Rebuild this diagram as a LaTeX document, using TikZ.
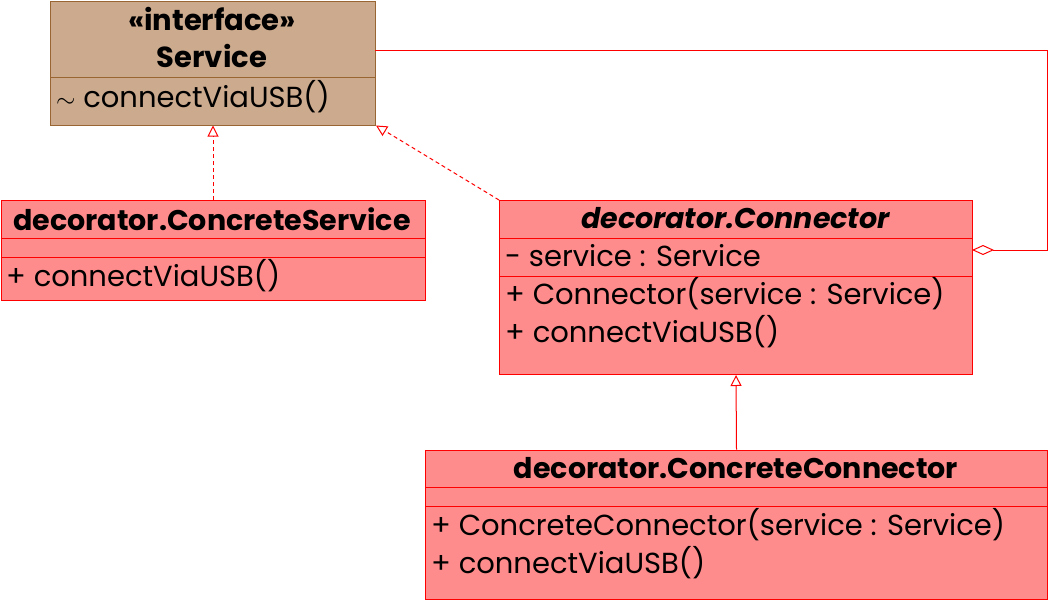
\documentclass[tikz,border=0pt]{standalone}
\usepackage{fontspec}
\setmainfont{Poppins}
\usetikzlibrary{arrows.meta}
\definecolor{classfill}{RGB}{255,140,140}
\definecolor{ifacefill}{RGB}{204,170,142}
\definecolor{ifacedraw}{RGB}{153,102,51}
\begin{document}
\begin{tikzpicture}[x=1pt,y=-1pt,
        cbox/.style={draw=red,fill=classfill,line width=1pt,inner sep=0pt,anchor=north west},
        ibox/.style={cbox,draw=ifacedraw,fill=ifacefill},
        title/.style={font=\fontsize{28.5}{30}\selectfont\bfseries,inner sep=0pt},
        member/.style={font=\fontsize{29}{30}\selectfont,inner sep=0pt,anchor=west},
        realize/.style={red,line width=1pt,dash pattern=on 4pt off 3pt,-{Triangle[open,length=11pt,width=11pt]}},
        extend/.style={red,line width=1pt,-{Triangle[open,length=11pt,width=11pt]}}]
    \useasboundingbox (0,0) rectangle (1055,600);
    % interface
    \node[ibox,minimum width=325pt,minimum height=124pt] (service) at (50,0.5) {};
    \draw[ifacedraw] (50,77) -- (375,77);
    \node[title,font=\fontsize{29}{30}\selectfont\bfseries] (serviceStereo) at (212,19) {«interface»};
    \node[title,font=\fontsize{29}{30}\selectfont\bfseries] (serviceName) at (212,56) {Service};
    \node[member] (serviceOp) at (56,97) {$\sim$ connectViaUSB()};
    % concrete service
    \node[cbox,minimum width=424pt,minimum height=100pt] (cservice) at (0.5,200) {};
    \foreach \y in {238,257}
        \draw[red] (0.5,\y) -- (424.5,\y);
    \node[title] (cserviceName) at (212,219) {decorator.ConcreteService};
    \node[member] (cserviceOp) at (6,276) {+ connectViaUSB()};
    % connector
    \node[cbox,minimum width=473pt,minimum height=174pt] (connector) at (499,200) {};
    \foreach \y in {238,276}
        \draw[red] (499,\y) -- (972,\y);
    \node[title,font=\fontsize{28.5}{30}\selectfont\bfseries\itshape] (connectorName) at (735.5,218) {decorator.Connector};
    \node[member] (connectorAttr) at (505,256) {- service : Service};
    \node[member] (connectorCtor) at (505,294) {+ Connector(service : Service)};
    \node[member] (connectorOp) at (505,332) {+ connectViaUSB()};
    % concrete connector
    \node[cbox,minimum width=622pt,minimum height=149pt] (cconnector) at (425,449.5) {};
    \foreach \y in {487,506}
        \draw[red] (425,\y) -- (1047,\y);
    \node[title] (cconnectorName) at (736,468) {decorator.ConcreteConnector};
    \node[member] (cconnectorCtor) at (431,525) {+ ConcreteConnector(service : Service)};
    \node[member] (cconnectorOp) at (431,563) {+ connectViaUSB()};
    % relations
    \coordinate (aggStart) at (375,50);
    \coordinate (aggEnd) at (972,250);
    \draw[realize] (cservice.north -| service.south) -- (service.south);
    \draw[realize] (connector.north west) -- (service.south east);
    \draw[extend] (cconnector.north) -- (connector.south);
    \draw[red,line width=1pt,{Diamond[open,length=22pt,width=10pt]}-] (aggEnd) -- (1047,250) |- (aggStart);
\end{tikzpicture}
\end{document}
